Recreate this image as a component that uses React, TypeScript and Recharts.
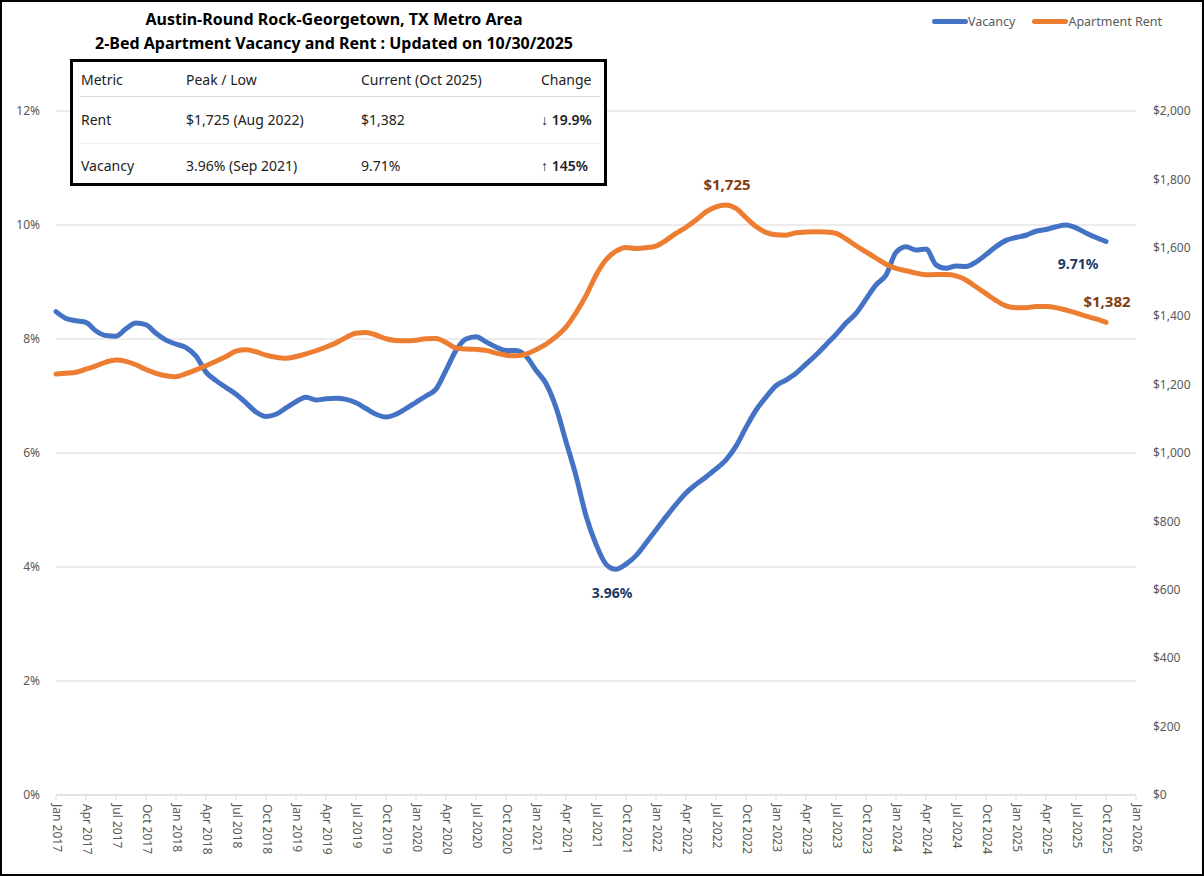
import React from "react";
import {
  LineChart,
  Line,
  XAxis,
  YAxis,
  CartesianGrid,
} from "recharts";

// monthly, Jan 2017 .. Oct 2025
const vacancy = [
  8.48, 8.36, 8.32, 8.29, 8.14, 8.06, 8.05, 8.18, 8.28, 8.25, 8.1, 7.98,
  7.91, 7.85, 7.7, 7.42, 7.27, 7.15, 7.03, 6.88, 6.72, 6.64, 6.68, 6.79,
  6.9, 6.98, 6.93, 6.95, 6.96, 6.94, 6.88, 6.78, 6.68, 6.63, 6.68, 6.78,
  6.89, 7.0, 7.12, 7.45, 7.8, 8.0, 8.04, 7.95, 7.86, 7.8, 7.8, 7.7,
  7.45, 7.22, 6.8, 6.2, 5.6, 4.9, 4.4, 4.05, 3.96, 4.05, 4.2, 4.42,
  4.65, 4.88, 5.1, 5.3, 5.45, 5.58, 5.72, 5.88, 6.12, 6.45, 6.75, 6.98,
  7.18, 7.28, 7.4, 7.56, 7.72, 7.9, 8.08, 8.28, 8.45, 8.7, 8.95, 9.12,
  9.52, 9.62, 9.56, 9.58, 9.3, 9.24, 9.28, 9.27, 9.35, 9.48, 9.62, 9.73,
  9.78, 9.82, 9.89, 9.92, 9.97, 10.0, 9.95, 9.86, 9.78, 9.71,
];

const rent = [
  1231, 1233, 1236, 1245, 1255, 1266, 1272, 1268, 1258, 1244, 1233, 1226,
  1223, 1232, 1243, 1255, 1268, 1282, 1298, 1302, 1296, 1286, 1280, 1277,
  1282, 1290, 1299, 1310, 1322, 1338, 1350, 1352, 1345, 1334, 1329, 1328,
  1330, 1334, 1335, 1323, 1307, 1304, 1303, 1300, 1292, 1286, 1284, 1289,
  1302, 1318, 1340, 1368, 1410, 1460, 1520, 1565, 1590, 1601, 1598, 1600,
  1605, 1622, 1642, 1660, 1681, 1705, 1720, 1725, 1715, 1688, 1662, 1645,
  1638, 1637, 1644, 1646, 1647, 1646, 1642, 1626, 1606, 1588, 1570, 1552,
  1540, 1533, 1526, 1521, 1522, 1522, 1518, 1506, 1486, 1466, 1446, 1430,
  1425, 1425, 1428, 1428, 1425, 1418, 1410, 1400, 1392, 1382,
];

const tickLabels = [
  "Jan 2017", "Apr 2017", "Jul 2017", "Oct 2017",
  "Jan 2018", "Apr 2018", "Jul 2018", "Oct 2018",
  "Jan 2019", "Apr 2019", "Jul 2019", "Oct 2019",
  "Jan 2020", "Apr 2020", "Jul 2020", "Oct 2020",
  "Jan 2021", "Apr 2021", "Jul 2021", "Oct 2021",
  "Jan 2022", "Apr 2022", "Jul 2022", "Oct 2022",
  "Jan 2023", "Apr 2023", "Jul 2023", "Oct 2023",
  "Jan 2024", "Apr 2024", "Jul 2024", "Oct 2024",
  "Jan 2025", "Apr 2025", "Jul 2025", "Oct 2025",
  "Jan 2026",
];

const vacancyTicks = [0, 2, 4, 6, 8, 10, 12];
const rentTicks = [0, 200, 400, 600, 800, 1000, 1200, 1400, 1600, 1800, 2000];

const tableRows = [
  ["Metric", "Peak / Low", "Current (Oct 2025)", "Change"],
  ["Rent", "$1,725 (Aug 2022)", "$1,382", "↓ 19.9%"],
  ["Vacancy", "3.96% (Sep 2021)", "9.71%", "↑ 145%"],
];

const data = vacancy.map((v, i) => ({ i, vacancy: v, rent: rent[i] }));
const xTicks = tickLabels.map((_, k) => k * 3);

const FONT = "'Noto Sans', 'Open Sans', sans-serif";
const AXIS_GRAY = "#595959";
const BLUE = "#4472c4";
const ORANGE = "#ed7d31";

const lowIdx = vacancy.indexOf(Math.min(...vacancy));
const peakIdx = rent.indexOf(Math.max(...rent));
const lastIdx = vacancy.length - 1;

const XTick = (props: any) => {
  const { x, y, payload } = props;
  const label = tickLabels[Math.round(payload.value / 3)];
  return (
    <text
      x={0}
      y={0}
      transform={`translate(${x + 1},${y + 2}) rotate(90)`}
      textAnchor="start"
      dominantBaseline="central"
      fontSize={12}
      fontFamily={FONT}
      fill={AXIS_GRAY}
    >
      {label}
    </text>
  );
};

const vacancyLabel = (props: any) => {
  const { x, y, index, value } = props;
  if (index === lowIdx) {
    return (
      <text x={x - 4} y={y + 23} textAnchor="middle" dominantBaseline="central"
        fontSize={14} fontWeight="bold" fontFamily={FONT} fill="#203864">
        {`${Number(value).toFixed(2)}%`}
      </text>
    );
  }
  if (index === lastIdx) {
    return (
      <text x={x - 28} y={y + 22} textAnchor="middle" dominantBaseline="central"
        fontSize={14} fontWeight="bold" fontFamily={FONT} fill="#203864">
        {`${Number(value).toFixed(2)}%`}
      </text>
    );
  }
  return null;
};

const rentLabel = (props: any) => {
  const { x, y, index, value } = props;
  if (index === peakIdx || index === lastIdx) {
    return (
      <text x={x + 1} y={y - 21} textAnchor="middle" dominantBaseline="central"
        fontSize={15} fontWeight="bold" fontFamily={FONT} fill="#843c0c">
        {`$${Number(value).toLocaleString("en-US")}`}
      </text>
    );
  }
  return null;
};

const colX = [8, 113, 288, 468];
const rowY = [18, 58, 104];

export default function App() {
  return (
    <div
      style={{
        position: "absolute",
        left: 0,
        top: 0,
        width: 1204,
        height: 876,
        border: "2px solid #000",
        boxSizing: "border-box",
        background: "#fff",
        fontFamily: FONT,
        overflow: "hidden",
      }}
    >
      <div style={{ position: "absolute", left: -2, top: -2 }}>
        <LineChart
          width={1204}
          height={876}
          data={data}
          margin={{ top: 111, right: 8, bottom: 11, left: 6 }}
        >
          <CartesianGrid yAxisId="left" vertical={false} stroke="#d9d9d9" />
          <XAxis
            dataKey="i"
            type="number"
            domain={[0, 108]}
            ticks={xTicks}
            interval={0}
            height={70}
            tick={<XTick />}
            tickSize={5}
            tickLine={{ stroke: "#d9d9d9" }}
            axisLine={{ stroke: "#d9d9d9" }}
          />
          <YAxis
            yAxisId="left"
            width={50}
            domain={[0, 12]}
            ticks={vacancyTicks}
            tickFormatter={(v: number) => `${v}%`}
            axisLine={false}
            tickLine={false}
            tickSize={0}
            tickMargin={16}
            tick={{ fontSize: 12, fill: AXIS_GRAY, fontFamily: FONT }}
          />
          <YAxis
            yAxisId="right"
            orientation="right"
            width={60}
            domain={[0, 2000]}
            ticks={rentTicks}
            tickFormatter={(v: number) => `$${v.toLocaleString("en-US")}`}
            axisLine={false}
            tickLine={false}
            tickSize={0}
            tickMargin={17}
            tick={{ fontSize: 12, fill: AXIS_GRAY, fontFamily: FONT, textAnchor: "start" }}
          />
          <Line
            yAxisId="left"
            type="monotone"
            dataKey="vacancy"
            stroke={BLUE}
            strokeWidth={5}
            strokeLinecap="round"
            dot={false}
            label={vacancyLabel}
            isAnimationActive={false}
          />
          <Line
            yAxisId="right"
            type="monotone"
            dataKey="rent"
            stroke={ORANGE}
            strokeWidth={5}
            strokeLinecap="round"
            dot={false}
            label={rentLabel}
            isAnimationActive={false}
          />
        </LineChart>
      </div>

      {/* title */}
      <div
        style={{
          position: "absolute",
          left: 30,
          top: 5,
          width: 604,
          textAlign: "center",
          fontWeight: "bold",
          fontSize: 16,
          lineHeight: "24px",
          color: "#000",
        }}
      >
        <div>Austin-Round Rock-Georgetown, TX Metro Area</div>
        <div>2-Bed Apartment Vacancy and Rent : Updated on 10/30/2025</div>
      </div>

      {/* legend */}
      <div style={{ position: "absolute", left: 930, top: 9, fontSize: 12.5, color: AXIS_GRAY }}>
        {[
          { name: "Vacancy", color: BLUE },
          { name: "Apartment Rent", color: ORANGE },
        ].map((it) => (
          <span key={it.name} style={{ display: "inline-flex", alignItems: "center", marginRight: 17 }}>
            <span style={{ display: "inline-block", width: 36, height: 5, borderRadius: 3, background: it.color }} />
            <span>{it.name}</span>
          </span>
        ))}
      </div>

      {/* summary table */}
      <div
        style={{
          position: "absolute",
          left: 68,
          top: 57,
          width: 537,
          height: 127,
          border: "3px solid #000",
          boxSizing: "border-box",
          background: "#fff",
          fontSize: 14,
          color: "#222",
        }}
      >
        <div style={{ position: "absolute", left: 7, width: 520, top: 34, height: 1, background: "#dcdcdc" }} />
        <div style={{ position: "absolute", left: 7, width: 520, top: 81, height: 1, background: "#eeeeee" }} />
        {tableRows.map((row, r) =>
          row.map((cell, c) => (
            <div
              key={`${r}-${c}`}
              style={{
                position: "absolute",
                left: colX[c],
                top: rowY[r] - 10,
                lineHeight: "20px",
                whiteSpace: "nowrap",
                fontWeight: r > 0 && c === 3 ? 600 : 400,
              }}
            >
              {cell}
            </div>
          ))
        )}
      </div>
    </div>
  );
}
